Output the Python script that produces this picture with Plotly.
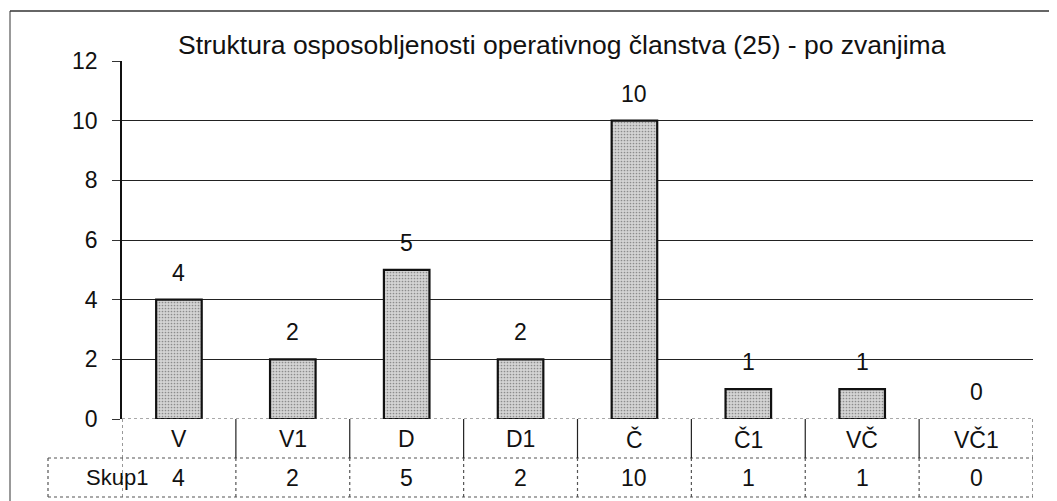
import plotly.graph_objects as go

categories = ["V", "V1", "D", "D1", "Č", "Č1", "VČ", "VČ1"]
values = [4, 2, 5, 2, 10, 1, 1, 0]
series_name = "Skup1"
title_text = "Struktura osposobljenosti operativnog članstva (25) - po zvanjima"
y_ticks = [0, 2, 4, 6, 8, 10, 12]

FONT = "Liberation Sans, Arial, sans-serif"
OFF = 8  # page body margin offset
W, H = 1057 - OFF, 501 - OFF
L, T = 122 - OFF, 61 - OFF
R = W - (1033 - OFF)
B = H - (419 - OFF)
pw, ph = W - L - R, H - T - B

def px_x(p):
    return (p - OFF - L) / pw

def px_y(p):
    return (H - B - (p - OFF)) / ph

xs = list(range(len(categories)))
outline_w = [2.2 if v > 0 else 0 for v in values]

fig = go.Figure()
fig.add_trace(go.Bar(
    x=xs, y=values, width=0.4, name=series_name,
    marker=dict(color="#cccccc", line=dict(color="#111", width=outline_w),
                pattern=dict(shape=".", fgcolor="#8c8c8c", bgcolor="#d4d4d4",
                             size=3, solidity=0.25, fillmode="replace")),
    hoverinfo="skip",
))

ann = []
for x, v in zip(xs, values):
    ann.append(dict(x=x, y=v, xref="x", yref="y", text=str(v), showarrow=False,
                    yanchor="bottom", yshift=12, font=dict(size=23, color="#111", family=FONT)))
row1_c = px_y(439)
row2_c = px_y(478)
for x, c, v in zip(xs, categories, values):
    ann.append(dict(x=x, y=row1_c, xref="x", yref="paper", text=c, showarrow=False,
                    yanchor="middle", font=dict(size=23, color="#111", family=FONT)))
    ann.append(dict(x=x, y=row2_c, xref="x", yref="paper", text=str(v), showarrow=False,
                    yanchor="middle", font=dict(size=23, color="#111", family=FONT)))
ann.append(dict(x=px_x(84), y=row2_c, xref="paper", yref="paper", text=series_name,
                showarrow=False, yanchor="middle", font=dict(size=22, color="#111", family=FONT)))
ann.append(dict(x=px_x(562), y=px_y(45), xref="paper", yref="paper", text=title_text,
                showarrow=False, yanchor="middle", font=dict(size=26.5, color="#111", family=FONT)))

shapes = []
dot = dict(color="#555", width=1.2, dash="dot")
y_r1 = px_y(458)
y_r2 = px_y(497)
shapes.append(dict(type="line", xref="paper", yref="paper", x0=px_x(48), x1=1, y0=y_r1, y1=y_r1, line=dot))
shapes.append(dict(type="line", xref="paper", yref="paper", x0=px_x(48), x1=1, y0=y_r2, y1=y_r2, line=dot))
shapes.append(dict(type="line", xref="paper", yref="paper", x0=px_x(48), x1=px_x(48), y0=y_r1, y1=y_r2, line=dot))
n = len(categories)
for i in range(n + 1):
    xb = i - 0.5
    shapes.append(dict(type="line", xref="x", yref="paper", x0=xb, x1=xb, y0=0, y1=y_r1,
                       line=dict(color="#222", width=1.2) if 0 < i < n else dot))
    shapes.append(dict(type="line", xref="x", yref="paper", x0=xb, x1=xb, y0=y_r1, y1=y_r2, line=dot))
shapes.append(dict(type="line", xref="paper", yref="y", x0=0, x1=1, y0=0, y1=0, line=dot))
shapes.append(dict(type="line", xref="paper", yref="paper", x0=px_x(10), x1=px_x(10),
                   y0=px_y(11), y1=px_y(505), line=dict(color="#555", width=1.2)))
shapes.append(dict(type="line", xref="paper", yref="paper", x0=px_x(10), x1=px_x(1060),
                   y0=px_y(11), y1=px_y(11), line=dict(color="#333", width=1.4)))

fig.update_layout(
    width=W, height=H,
    margin=dict(l=L, r=R, t=T, b=B),
    paper_bgcolor="white", plot_bgcolor="white",
    showlegend=False,
    annotations=ann, shapes=shapes,
    font=dict(family=FONT, size=22, color="#111"),
)
fig.update_xaxes(range=[-0.5, n - 0.5], showticklabels=False, showgrid=False,
                 zeroline=False, showline=False, ticks="", fixedrange=True)
fig.update_yaxes(range=[0, 12], tickvals=y_ticks, ticktext=[str(t) for t in y_ticks],
                 showgrid=True, gridcolor="#222", gridwidth=1.2, zeroline=False,
                 showline=True, linecolor="#111", linewidth=1.5,
                 ticks="outside", ticklen=8, tickcolor="#333", tickwidth=1,
                 ticklabelstandoff=10,
                 tickfont=dict(size=23, color="#111", family=FONT), fixedrange=True)

fig.write_html("out.html")
